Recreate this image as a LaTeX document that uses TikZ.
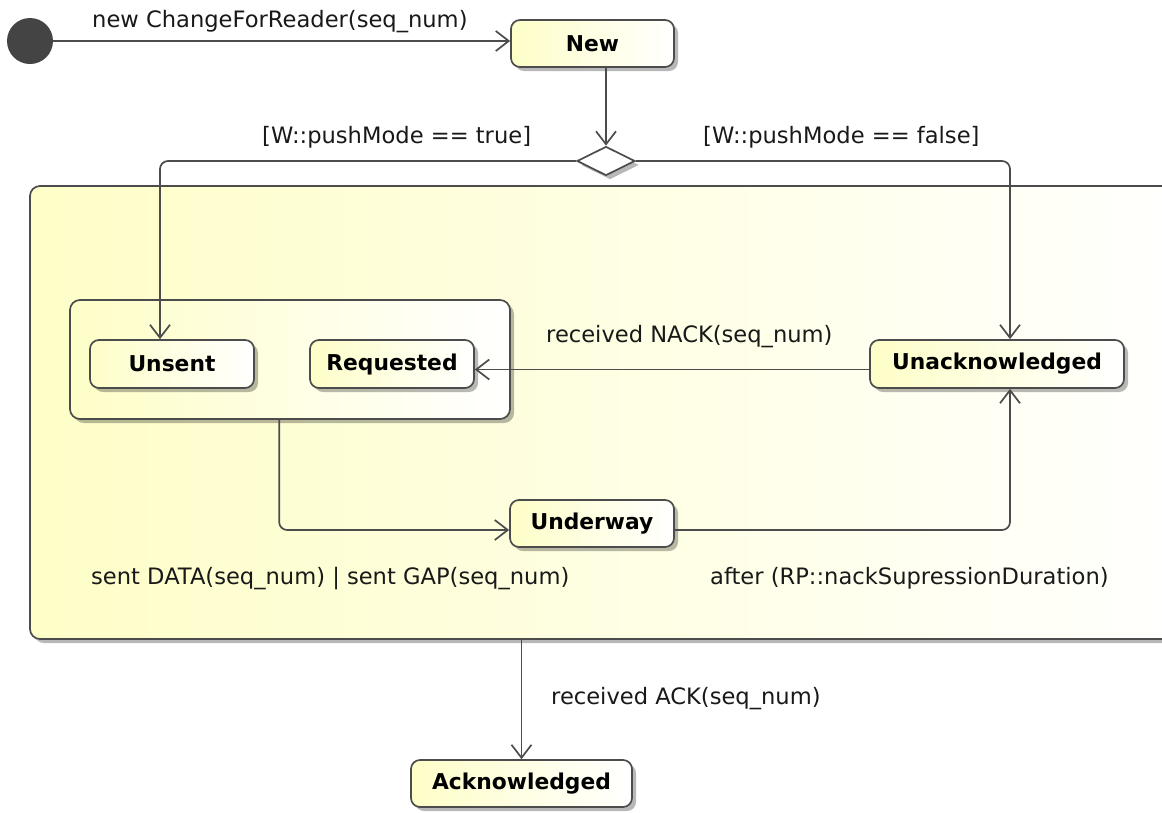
\documentclass[tikz,border=0pt]{standalone}
\usepackage{fontspec}
\setmainfont{DejaVu Sans}
\usetikzlibrary{arrows.meta,shapes.geometric,shadows,calc}
\definecolor{ln}{HTML}{4C4C4C}
\definecolor{yel}{HTML}{FEFEC8}
\definecolor{initc}{HTML}{444444}
\begin{document}
\begin{tikzpicture}[x=1pt,y=-1pt,
  lab/.style={font=\fontsize{22.6}{26}\selectfont, inner sep=0pt, anchor=base west, text=black!90},
  shad/.style={drop shadow={shadow xshift=4pt, shadow yshift=-4pt, fill=black, opacity=0.28}},
  st/.style={draw=ln, line width=1.7pt, rounded corners=9pt, left color=yel, right color=white,
    font=\fontsize{21.8}{26}\selectfont\bfseries, inner sep=0pt, shad},
  comp/.style={draw=ln, line width=1.7pt, rounded corners=10pt, left color=yel, right color=white, inner sep=0pt, shad},
  conn/.style={draw=ln, line width=1.7pt, -{Straight Barb[length=13pt,width=20pt,line width=1.7pt]}, rounded corners=8pt},
]
\useasboundingbox (0,0) rectangle (1162,812);
\clip (0,0) rectangle (1162,812);
\fill[white] (0,0) rectangle (1162,812);

% composite states
\node[comp, minimum width=1180pt, minimum height=453pt] (outer) at (620,412.5) {};
\node[comp, minimum width=440pt, minimum height=119pt] (inner) at (290,359.5) {};

% initial pseudo-state and decision
\node[circle, fill=initc, minimum size=46pt, inner sep=0pt] (init) at (30,41) {};
\node[diamond, aspect=2, draw=ln, fill=white, line width=1.7pt, minimum width=58pt, minimum height=29pt, inner sep=0pt, shad] (dia) at (606,161) {};

% states
\node[st, minimum width=163pt, minimum height=47pt] (new) at (592.5,43.5) {New};
\node[st, minimum width=164pt, minimum height=48pt] (unsent) at (172,364) {Unsent};
\node[st, minimum width=164pt, minimum height=48pt] (req) at (392,364) {Requested};
\node[st, minimum width=254pt, minimum height=48pt] (unack) at (997,364) {Unacknowledged};
\node[st, minimum width=164pt, minimum height=47pt] (underway) at (592,523.5) {Underway};
\node[st, minimum width=221pt, minimum height=47pt] (ack) at (521.5,783.5) {Acknowledged};

% transitions
\draw[conn] (init) -- (init -| new.west);
\draw[conn] (new.south -| dia.north) -- (dia.north);
\draw[conn] (dia.west) -| ([xshift=-12pt]unsent.north);
\draw[conn] (dia.east) -| ([xshift=13pt]unack.north);
\draw[conn] ([yshift=-5.5pt]unack.west) -- ([yshift=-5.5pt]req.east);
\draw[conn] ([xshift=210pt]inner.south west) |- ([yshift=-6.5pt]underway.west);
\draw[conn] ([yshift=-6.5pt]underway.east) -| ([xshift=13pt]unack.south);
\draw[conn] (outer.south -| ack.north) -- (ack.north);

% labels
\node[lab] (l1) at (92,27) {new ChangeForReader(seq\_num)};
\node[lab] (l2) at (262,143) {[W::pushMode == true]};
\node[lab] (l3) at (703,143) {[W::pushMode == false]};
\node[lab] (l4) at (546,342) {received NACK(seq\_num)};
\node[lab] (l5) at (91,584) {sent DATA(seq\_num) | sent GAP(seq\_num)};
\node[lab] (l6) at (710,584) {after (RP::nackSupressionDuration)};
\node[lab] (l7) at (551,704) {received ACK(seq\_num)};
\end{tikzpicture}
\end{document}
